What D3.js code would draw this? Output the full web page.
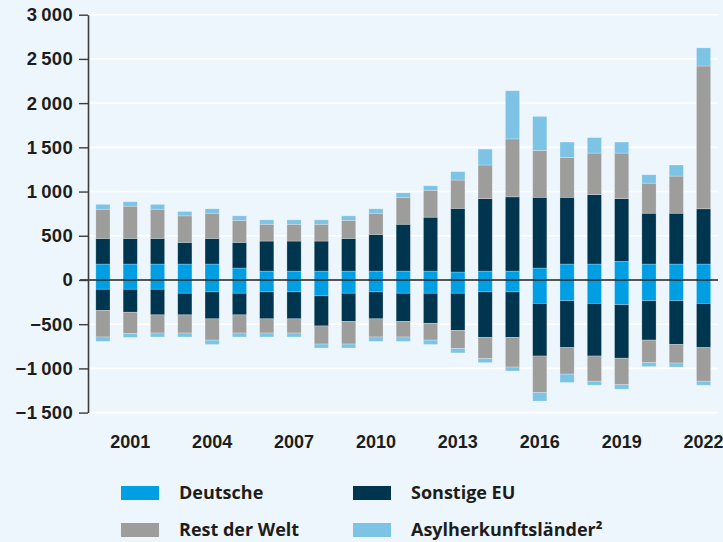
<!DOCTYPE html>
<html lang="de">
<head>
  <meta charset="UTF-8">
  <title>Zu- und Fortzüge</title>
  <script src="https://d3js.org/d3.v7.min.js"></script>
  <style>
    body { margin: 0; background: #eef6fd; }
    svg { display: block; font-family: "Open Sans", "Noto Sans", sans-serif; }
    .tick text { font-size: 18px; font-weight: 800; fill: #1d1d1b; }
    .y-axis .tick text { font-size: 18.5px; letter-spacing: 0.3px; }
    .legend text { font-size: 18px; font-weight: 700; fill: #1d1d1b; }
  </style>
</head>
<body>
<div id="chart"></div>
<script>
  // Jahre und Achsenbeschriftung
  const years = [2000, 2001, 2002, 2003, 2004, 2005, 2006, 2007, 2008, 2009, 2010, 2011,
                 2012, 2013, 2014, 2015, 2016, 2017, 2018, 2019, 2020, 2021, 2022];
  const yearTicks = [2001, 2004, 2007, 2010, 2013, 2016, 2019, 2022];
  const valueTicks = [-1500, -1000, -500, 0, 500, 1000, 1500, 2000, 2500, 3000];

  // positive Werte (oberhalb der Nulllinie)
  const deutschePos = [180, 180, 180, 180, 180, 135, 100, 100, 100, 100, 100, 100,
                       100, 90, 100, 100, 135, 180, 180, 210, 180, 180, 180];
  const sonstigeEuPos = [290, 290, 290, 245, 290, 290, 340, 340, 340, 370, 415, 530,
                         610, 720, 820, 840, 800, 755, 785, 710, 575, 575, 625];
  const restWeltPos = [330, 365, 330, 300, 285, 250, 190, 190, 190, 205, 240, 305,
                       305, 320, 380, 655, 530, 450, 470, 515, 340, 420, 1615];
  const asylPos = [55, 50, 55, 50, 50, 50, 50, 50, 50, 50, 50, 50,
                   50, 95, 180, 545, 385, 175, 175, 125, 95, 125, 205];

  // negative Werte (unterhalb der Nulllinie)
  const deutscheNeg = [-105, -105, -105, -150, -135, -150, -135, -135, -180, -150, -135, -150,
                       -150, -150, -135, -135, -265, -235, -265, -280, -235, -235, -265];
  const sonstigeEuNeg = [-240, -260, -290, -245, -305, -245, -305, -305, -340, -320, -305, -320,
                         -340, -420, -515, -515, -595, -530, -595, -605, -445, -495, -500];
  const restWeltNeg = [-300, -240, -205, -205, -240, -205, -160, -160, -205, -255, -205, -175,
                       -190, -205, -240, -335, -415, -300, -285, -300, -255, -210, -380];
  const asylNeg = [-50, -45, -45, -45, -50, -45, -45, -45, -45, -45, -50, -50,
                   -50, -50, -45, -45, -95, -95, -45, -50, -45, -45, -45];

  const seriesNames = ["Deutsche", "Sonstige EU", "Rest der Welt", "Asylherkunftsländer²"];
  const colors = ["#009fe3", "#00354f", "#9d9d9c", "#7dc3e6"];

  const width = 723, height = 542;

  // Tabelle für d3.stack
  const keys = ["d+", "eu+", "rw+", "as+", "d-", "eu-", "rw-", "as-"];
  const table = years.map((y, i) => ({
    year: y,
    "d+": deutschePos[i], "eu+": sonstigeEuPos[i], "rw+": restWeltPos[i], "as+": asylPos[i],
    "d-": deutscheNeg[i], "eu-": sonstigeEuNeg[i], "rw-": restWeltNeg[i], "as-": asylNeg[i]
  }));
  const stacked = d3.stack().keys(keys).offset(d3.stackOffsetDiverging)(table);

  const svg = d3.select("#chart").append("svg")
    .attr("width", width)
    .attr("height", height);

  svg.append("rect").attr("width", width).attr("height", height).attr("fill", "#eef6fd");

  const x = d3.scaleBand()
    .domain(years)
    .range([89, 717.5])
    .paddingInner(0.48)
    .paddingOuter(0.25);

  const y = d3.scaleLinear()
    .domain([-1500, 3000])
    .range([412.6, 14.7]);

  // Gitterlinien
  svg.append("g")
    .selectAll("line")
    .data(valueTicks)
    .enter().append("line")
    .attr("x1", 88)
    .attr("x2", 718)
    .attr("y1", d => y(d))
    .attr("y2", d => y(d))
    .attr("stroke", "#ffffff")
    .attr("stroke-width", 1.6);

  // Balken
  svg.append("g")
    .selectAll("g")
    .data(stacked)
    .enter().append("g")
    .attr("fill", (d, i) => colors[i % 4])
    .selectAll("rect")
    .data(d => d)
    .enter().append("rect")
    .attr("x", d => x(d.data.year))
    .attr("width", x.bandwidth())
    .attr("y", d => y(Math.max(d[0], d[1])))
    .attr("height", d => Math.abs(y(d[0]) - y(d[1])))
    .attr("stroke", "#ffffff")
    .attr("stroke-opacity", 0.35)
    .attr("stroke-width", 0.7);

  // Nulllinie
  svg.append("line")
    .attr("x1", 80)
    .attr("x2", 718)
    .attr("y1", y(0))
    .attr("y2", y(0))
    .attr("stroke", "#1d1d1b")
    .attr("stroke-width", 1.6);

  // y-Achse
  const fmt = v => {
    const s = Math.abs(v) >= 1000
      ? Math.floor(Math.abs(v) / 1000) + "\u2009" + String(Math.abs(v) % 1000).padStart(3, "0")
      : String(Math.abs(v));
    return (v < 0 ? "\u2212" : "") + s;
  };

  const yAxis = svg.append("g")
    .attr("class", "y-axis")
    .attr("transform", "translate(88,0)")
    .call(d3.axisLeft(y).tickValues(valueTicks).tickSize(9).tickSizeOuter(0).tickPadding(6).tickFormat(fmt));
  yAxis.select(".domain").attr("stroke", "#3c3c3b").attr("stroke-width", 1.6);
  yAxis.selectAll(".tick line").attr("stroke", "#3c3c3b").attr("stroke-width", 1.4);

  // x-Achse (nur Beschriftung)
  const xAxis = svg.append("g")
    .attr("transform", "translate(0,435)")
    .call(d3.axisBottom(x).tickValues(yearTicks).tickSize(0).tickPadding(0));
  xAxis.select(".domain").remove();

  // Legende
  const legendPos = [[121, 486], [353, 486], [121, 523], [353, 523]];
  const legend = svg.append("g").attr("class", "legend");
  seriesNames.forEach((name, i) => {
    const [lx, ly] = legendPos[i];
    legend.append("rect")
      .attr("x", lx).attr("y", ly)
      .attr("width", 38).attr("height", 14)
      .attr("fill", colors[i]);
    legend.append("text")
      .attr("x", lx + 58)
      .attr("y", ly + 13)
      .text(name);
  });
</script>
</body>
</html>
